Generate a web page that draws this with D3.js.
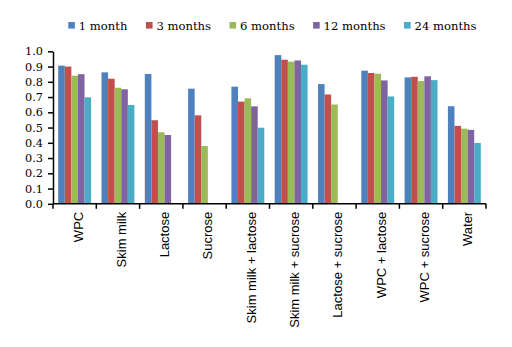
<!DOCTYPE html>
<html>
<head>
<meta charset="utf-8">
<script src="https://cdn.jsdelivr.net/npm/d3@7"></script>
<style>
  body { margin: 0; background: #fff; }
  svg { display: block; }
</style>
</head>
<body>
<svg id="chart" width="512" height="347"></svg>
<script>
// storage groups on the x axis
var categories = ["WPC", "Skim milk", "Lactose", "Sucrose", "Skim milk + lactose",
    "Skim milk + sucrose", "Lactose + sucrose", "WPC + lactose", "WPC + sucrose", "Water"];

var seriesNames = ["1 month", "3 months", "6 months", "12 months", "24 months"];

// one value per category, null = no bar
var month1  = [0.906, 0.862, 0.851, 0.755, 0.768, 0.975, 0.785, 0.873, 0.829, 0.640];
var month3  = [0.900, 0.820, 0.548, 0.580, 0.670, 0.945, 0.717, 0.858, 0.833, 0.511];
var month6  = [0.840, 0.761, 0.469, 0.379, 0.692, 0.932, 0.651, 0.853, 0.805, 0.493];
var month12 = [0.850, 0.751, 0.451, null,  0.639, 0.940, null,  0.809, 0.836, 0.485];
var month24 = [0.698, 0.648, null,  null,  0.499, 0.912, null,  0.704, 0.811, 0.399];

var yTicks = [0, 0.1, 0.2, 0.3, 0.4, 0.5, 0.6, 0.7, 0.8, 0.9, 1.0];

var colors = ["#4F81BD", "#C0504D", "#9BBB59", "#8064A2", "#4BACC6"];
var seriesValues = [month1, month3, month6, month12, month24];

var svg = d3.select("#chart");

var plotLeft = 53, plotRight = 486, plotTop = 51.3, plotBottom = 203.8;

var x0 = d3.scaleBand()
    .domain(categories)
    .range([plotLeft, plotRight])
    .paddingInner(0.24)
    .paddingOuter(0.12);

var x1 = d3.scaleBand()
    .domain(seriesNames)
    .range([0, x0.bandwidth()]);

var y = d3.scaleLinear()
    .domain([0, 1])
    .range([plotBottom, plotTop]);

// bars
var groups = svg.append("g").selectAll("g")
    .data(categories)
    .enter().append("g")
    .attr("transform", function(d) { return "translate(" + x0(d) + ",0)"; });

groups.selectAll("rect")
    .data(function(d, i) {
        return seriesNames.map(function(s, j) {
            return {series: s, value: seriesValues[j][i], color: colors[j]};
        }).filter(function(b) { return b.value != null; });
    })
    .enter().append("rect")
    .attr("x", function(d) { return x1(d.series); })
    .attr("width", x1.bandwidth())
    .attr("y", function(d) { return y(d.value); })
    .attr("height", function(d) { return y(0) - y(d.value); })
    .attr("fill", function(d) { return d.color; });

// y axis
var yAxis = svg.append("g")
    .attr("transform", "translate(" + plotLeft + ",0)")
    .call(d3.axisLeft(y).tickValues(yTicks).tickFormat(d3.format(".1f"))
        .tickSizeInner(5).tickSizeOuter(0).tickPadding(5));

yAxis.attr("font-family", "'DejaVu Serif', serif");
yAxis.select(".domain").attr("stroke", "#000").attr("stroke-width", 1.5);
yAxis.selectAll(".tick line").attr("stroke", "#000").attr("stroke-width", 1.5);
yAxis.selectAll("text")
    .attr("font-family", "'DejaVu Serif', serif")
    .attr("font-size", 11.3)
    .attr("fill", "#000");

// x axis, ticks between the groups
var step = x0.step();
var xTickPos = d3.range(categories.length + 1).map(function(i) { return plotLeft + i * step; });

var xAxis = svg.append("g");
xAxis.append("line")
    .attr("x1", plotLeft).attr("x2", plotRight)
    .attr("y1", plotBottom).attr("y2", plotBottom)
    .attr("stroke", "#000").attr("stroke-width", 1.5);

xAxis.selectAll("line.tick")
    .data(xTickPos)
    .enter().append("line")
    .attr("class", "tick")
    .attr("x1", function(d) { return d; }).attr("x2", function(d) { return d; })
    .attr("y1", plotBottom).attr("y2", plotBottom + 5)
    .attr("stroke", "#000").attr("stroke-width", 1.5);

xAxis.selectAll("text")
    .data(categories)
    .enter().append("text")
    .attr("transform", function(d) {
        return "translate(" + (x0(d) + x0.bandwidth() / 2 + 2) + "," + (plotBottom + 8) + ") rotate(-90)";
    })
    .attr("text-anchor", "end")
    .attr("dy", "0.45em")
    .attr("font-family", "'Liberation Sans', Arial, sans-serif")
    .attr("font-size", 13)
    .attr("fill", "#000")
    .text(function(d) { return d; });

// legend
var legend = svg.append("g");
var lx = 68.3;
seriesNames.forEach(function(s, i) {
    legend.append("rect")
        .attr("x", lx).attr("y", 22)
        .attr("width", 6.6).attr("height", 6.6)
        .attr("fill", colors[i]);
    var t = legend.append("text")
        .attr("x", lx + 10.5).attr("y", 30)
        .attr("font-family", "'DejaVu Serif', serif")
        .attr("font-size", 11.6)
        .attr("fill", "#000")
        .text(s);
    lx += 10.5 + t.node().getComputedTextLength() + 18.5;
});
</script>
</body>
</html>
